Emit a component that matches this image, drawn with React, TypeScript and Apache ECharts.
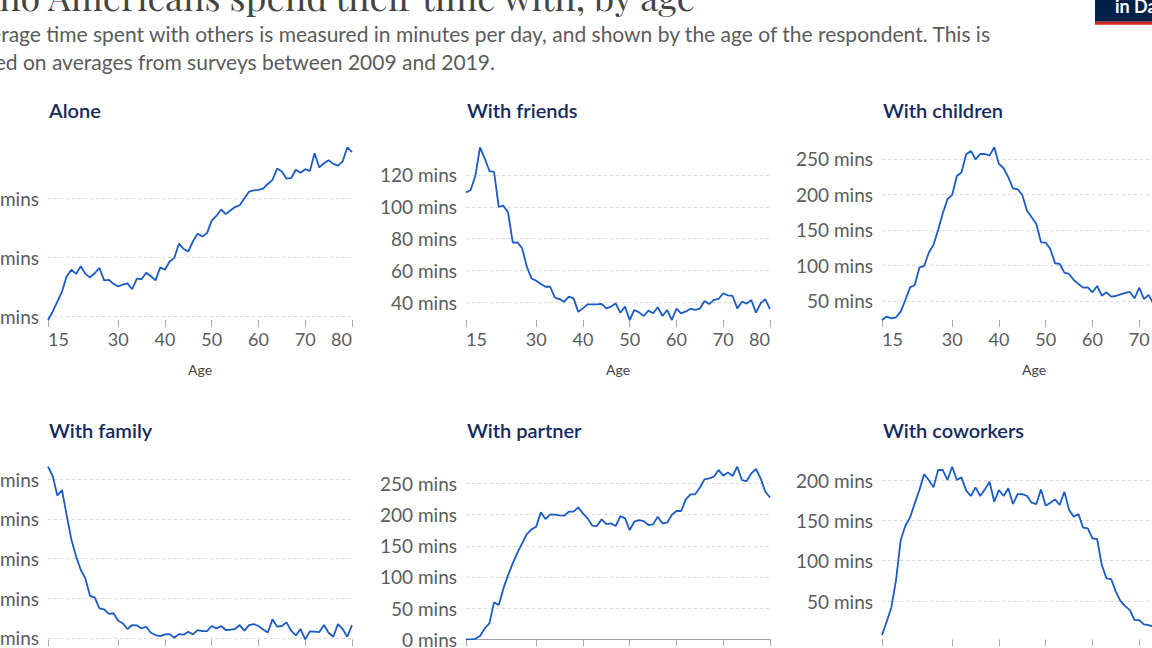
import React, { useEffect, useRef } from "react";
import * as echarts from "echarts";

const ages = [15,16,17,18,19,20,21,22,23,24,25,26,27,28,29,30,31,32,33,34,35,36,37,38,39,40,41,42,43,44,45,46,47,48,49,50,51,52,53,54,55,56,57,58,59,60,61,62,63,64,65,66,67,68,69,70,71,72,73,74,75,76,77,78,79,80];
const xTicks = [15, 30, 40, 50, 60, 70, 80];

const alone = [194,208,225,242,268,279,272,285,272,266, 273,282,261,262,255,251,254,256,246,264, 263,274,268,261,283,279,293,299,323,314, 310,327,340,335,341,362,370,381,373,379, 385,388,400,411,413,414,416,424,431,450, 445,433,434,448,443,449,446,476,452,459, 464,458,455,462,486,478];
const withFriends = [109,110.6,119.4,137.4,130.5,122.5,122,100,100.7,96.5, 77.5,77.7,74,62.4,55,53.6,51.5,49.8,49.8,43, 42,40.4,43.6,42.5,34,36.2,38.7,38.7,38.7,39, 36.2,37.3,39.4,33.5,37.3,28.9,35.2,33.7,31.4,34.8, 33.1,36.9,31.4,35.2,28.9,36,33.1,34.3,36,35.2, 36,40.8,38.9,41.5,42.1,45.7,44.4,44,36.2,40.4, 39.2,41.5,33.5,39.4,41.9,35.8];
const withChildren = [23.2,28,25.6,27,35,51.4,69.2,72.5,97,99.3, 118,129,150,173.5,193.2,199.3,226,230.8,256.6,261.3, 249.5,257,257,254.7,266.4,243,236.9,224.2,208.7,207.3, 199.3,177.2,167.8,158.5,132.6,132.2,122.8,103.1,102.1,90, 88,79.6,74,68.8,69.2,62.2,71.1,57.5,62.2,56.1, 57,59.4,61.3,62.7,53.8,68.8,52.8,58.5,46.7,50, 47,45,44,42,40,38];
const withFamily = [266,254.2,229.7,236.5,204.4,174,152.8,135.9,124.7,102.9, 100.8,87.3,86,80.1,81,71.6,68.3,61.1,66.1,65.7, 61.9,64,56.4,53.5,52.2,54.3,54.7,50.1,54.7,53.9, 57.7,54.3,59.8,58.5,58.5,64.9,61.9,64.9,59.8,60.2, 61.1,66.1,59,66.1,67.4,64.9,60.6,56.8,73.3,64, 64.9,69.5,59,53,61.1,48,58.1,57.7,57.3,66.1, 56.4,51.3,67.4,61.1,51.3,66.1];
const withPartner = [0,0,1,5.3,17.6,25.6,59.3,55,81.7,103, 121.8,138.9,153.8,168.8,176.3,180.6,203.5,192.8,200.3,199.8, 198.7,198.2,204.6,204.6,211.5,201.9,193.9,182.2,181.6,192.3, 184.8,185.9,181.6,197.6,193.9,175.2,188.6,191.2,189.6,183.2, 184.3,196.6,185.9,187,199.3,205.7,205.7,224.4,232.4,232.4, 243,256.4,258,260.7,271.4,262.3,267.6,261.8,276.7,255.3, 253.7,266,273,258,236.6,227.6];
const withCoworkers = [7.9,24.4,42.1,76,125.6,143.4,153.7,171,187.6,207, 200,190.9,212.4,212.4,200,216.5,200,203.3,186.8,180.2, 190.9,180.2,188.4,197.9,173.1,187.6,180.2,189.7,170.2,182.6, 182.6,180.2,171.9,170.2,188.4,168.2,171.9,176,169,185.5, 162.8,154.5,157.9,140.9,140.1,127.7,126.9,94.6,78.1,77.3, 61.6,50,43.8,38.8,26.4,26.4,21.1,20.2,18.2,15, 13,10,8,6,4,2.5];

const panelTitles = ["Alone", "With friends", "With children", "With family", "With partner", "With coworkers"];
const panelSeries = [alone, withFriends, withChildren, withFamily, withPartner, withCoworkers];
const panelIntervals = [100, 20, 50, 50, 50, 50];

const chartTitle = "Who Americans spend their time with, by age";
const subtitle1 = "The average time spent with others is measured in minutes per day, and shown by the age of the respondent. This is";
const subtitle2 = "based on averages from surveys between 2009 and 2019.";
const logoText = "in Data";
const xName = "Age";

const COL_LEFT = [48, 466, 882];
const ROW_TOP = [147.3, 466.7];
const PLOT_W = 304;
const PLOT_H = 172.7;
const LINE_COLOR = "#1a5cc4";
const LABEL_COLOR = "#5b5b5b";
const TITLE_COLOR = "#14295c";
const FONT = "Lato, 'Noto Sans', sans-serif";

export default function App() {
  const ref = useRef<HTMLDivElement>(null);
  useEffect(() => {
    if (!ref.current) return;
    const chart = echarts.init(ref.current, undefined, { renderer: "svg" });
    const grids: any[] = [];
    const xAxes: any[] = [];
    const yAxes: any[] = [];
    const series: any[] = [];
    const graphics: any[] = [];

    panelSeries.forEach((vals, i) => {
      const col = i % 3;
      const row = Math.floor(i / 3);
      const iv = panelIntervals[i];
      const isZeroBase = Math.min(...vals) === 0;
      grids.push({
        left: COL_LEFT[col],
        top: ROW_TOP[row],
        width: PLOT_W,
        height: PLOT_H,
        containLabel: false,
        outerBoundsMode: "none",
      });
      xAxes.push({
        type: "value",
        gridIndex: i,
        min: 15,
        max: 80,
        axisLine: { show: isZeroBase, onZero: false, lineStyle: { color: "#a0a0a0", width: 1 } },
        axisTick: { show: true, customValues: xTicks, length: 7, lineStyle: { color: "#a8a8a8" } },
        axisLabel: {
          customValues: xTicks,
          fontSize: 18,
          fontFamily: FONT,
          color: LABEL_COLOR,
          margin: 10,
          alignMinLabel: "left",
          alignMaxLabel: "right",
        },
        splitLine: { show: false },
        name: xName,
        nameLocation: "middle",
        nameGap: 42,
        nameTextStyle: { fontSize: 14, fontFamily: FONT, color: "#444" },
      });
      yAxes.push({
        type: "value",
        gridIndex: i,
        min: "dataMin",
        max: "dataMax",
        minInterval: iv,
        maxInterval: iv,
        axisLine: { show: false },
        axisTick: { show: false },
        axisLabel: {
          fontSize: 19,
          fontFamily: FONT,
          color: LABEL_COLOR,
          margin: 9,
          formatter: (v: number) => (Math.abs(v % iv) < 1e-6 ? `${v} mins` : ""),
        },
        splitLine: {
          show: true,
          showMinLine: false,
          showMaxLine: false,
          lineStyle: { color: "#d9d9d9", type: [3, 3], width: 1 },
        },
      });
      series.push({
        type: "line",
        xAxisIndex: i,
        yAxisIndex: i,
        showSymbol: false,
        symbol: "none",
        lineStyle: { color: LINE_COLOR, width: 1.8 },
        data: ages.map((a, k) => [a, vals[k]]),
      });
      graphics.push({
        type: "text",
        x: COL_LEFT[col] + 1,
        y: row === 0 ? 110 : 430,
        style: {
          text: panelTitles[i],
          font: `600 20px ${FONT}`,
          fill: TITLE_COLOR,
          textAlign: "left",
          align: "left",
          textVerticalAlign: "middle",
          verticalAlign: "middle",
        },
      });
    });

    graphics.push(
      {
        type: "text",
        x: 695,
        y: -4,
        style: {
          text: chartTitle,
          font: `36px 'Playfair Display', 'Liberation Serif', serif`,
          fill: "#444",
          textAlign: "right",
          align: "right",
          textVerticalAlign: "middle",
          verticalAlign: "middle",
        },
      },
      {
        type: "text",
        x: 990,
        y: 33,
        style: {
          text: subtitle1,
          font: `21px ${FONT}`,
          fill: LABEL_COLOR,
          textAlign: "right",
          align: "right",
          textVerticalAlign: "middle",
          verticalAlign: "middle",
        },
      },
      {
        type: "text",
        x: 495,
        y: 61.3,
        style: {
          text: subtitle2,
          font: `21px ${FONT}`,
          fill: LABEL_COLOR,
          textAlign: "right",
          align: "right",
          textVerticalAlign: "middle",
          verticalAlign: "middle",
        },
      },
      { type: "rect", shape: { x: 1095, y: -40, width: 120, height: 61.7 }, style: { fill: "#002147" } },
      { type: "rect", shape: { x: 1095, y: 21.7, width: 120, height: 3 }, style: { fill: "#ce261e" } },
      {
        type: "text",
        x: 1115,
        y: 5.5,
        style: {
          text: logoText,
          font: `bold 18px ${FONT}`,
          fill: "#ffffff",
          textAlign: "left",
          align: "left",
          textVerticalAlign: "middle",
          verticalAlign: "middle",
        },
      }
    );

    chart.setOption({
      animation: false,
      backgroundColor: "#ffffff",
      grid: grids,
      xAxis: xAxes,
      yAxis: yAxes,
      series,
      graphic: { elements: graphics },
    });
    return () => chart.dispose();
  }, []);

  return (
    <div
      ref={ref}
      style={{ position: "absolute", left: 0, top: 0, width: 1152, height: 648, overflow: "hidden", background: "#fff" }}
    />
  );
}
